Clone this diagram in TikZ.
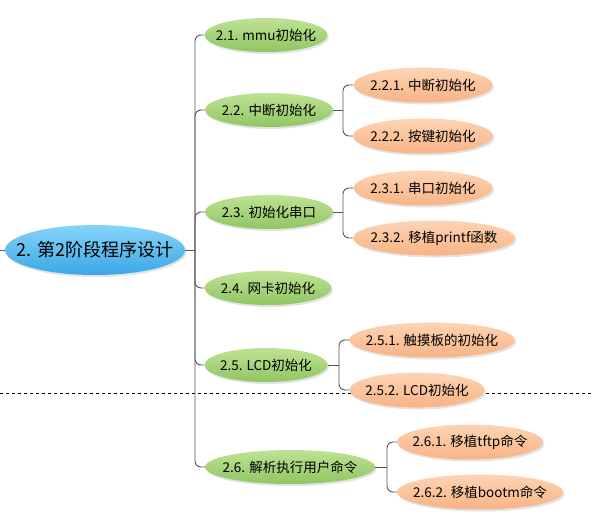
\documentclass[tikz,border=0pt]{standalone}
\usepackage{fontspec}
\setmainfont{Noto Sans CJK SC}
\usepackage{tikz}
\usepackage{xcolor}
\usetikzlibrary{shapes.geometric,shadows}
\definecolor{rootblue}{HTML}{1898E2}
\definecolor{rootlight}{HTML}{86D3F8}
\definecolor{subgreen}{HTML}{74B83A}
\definecolor{sublight}{HTML}{BFE295}
\definecolor{leaforange}{HTML}{F7A066}
\definecolor{leaflight}{HTML}{FDD4B4}
\definecolor{branchgray}{HTML}{555555}
\tikzset{
    mind-node/.style = {ellipse, draw=none, inner xsep=-20pt, inner ysep=0pt, text=black,
        drop shadow={opacity=0.22, shadow xshift=1.5pt, shadow yshift=-2pt}},
    root-node/.style = {mind-node, minimum height=50pt, font=\fontsize{18}{21}\selectfont,
        top color=rootlight, middle color=rootblue, bottom color=rootblue!85!white},
    sub-node/.style = {mind-node, minimum height=34pt, font=\fontsize{13.5}{16}\selectfont,
        top color=sublight, middle color=subgreen, bottom color=subgreen!80!white},
    leaf-node/.style = {mind-node, minimum height=35pt, font=\fontsize{13.5}{16}\selectfont,
        top color=leaflight, middle color=leaforange, bottom color=leaforange!80!white},
    branch-line/.style = {draw=branchgray, line width=0.9pt, rounded corners=6pt},
}

\begin{document}
\begin{tikzpicture}[x=1pt, y=-1pt]
\useasboundingbox (0,0) rectangle (594,522);
% separator
\draw[dashed, line width=0.7pt] (0,393) -- (594,393);

% root and first level
\node[root-node, minimum width=180pt] (root) at (95,250) {2. 第2阶段程序设计};
\coordinate (left-end) at (0,250);
\coordinate (trunk) at (195,250);

\node[sub-node, minimum width=123pt] (s1) at (266,35)  {2.1. mmu初始化};
\node[sub-node, minimum width=128pt] (s2) at (269,110) {2.2. 中断初始化};
\node[sub-node, minimum width=128pt] (s3) at (269,212) {2.3. 初始化串口};
\node[sub-node, minimum width=127pt] (s4) at (268,288) {2.4. 网卡初始化};
\node[sub-node, minimum width=123pt] (s5) at (266,365) {2.5. LCD初始化};
\node[sub-node, minimum width=170pt] (s6) at (290,467) {2.6. 解析执行用户命令};

% second level
\node[leaf-node, minimum width=139pt] (l21) at (423,85)  {2.2.1. 中断初始化};
\node[leaf-node, minimum width=140pt] (l22) at (423,136) {2.2.2. 按键初始化};
\node[leaf-node, minimum width=139pt] (l31) at (423,188) {2.3.1. 串口初始化};
\node[leaf-node, minimum width=162pt] (l32) at (434,238) {2.3.2. 移植printf函数};
\node[leaf-node, minimum width=165pt] (l51) at (432,340) {2.5.1. 触摸板的初始化};
\node[leaf-node, minimum width=135pt] (l52) at (417,390) {2.5.2. LCD初始化};
\node[leaf-node, minimum width=146pt] (l61) at (470,442) {2.6.1. 移植tftp命令};
\node[leaf-node, minimum width=166pt] (l62) at (480,492) {2.6.2. 移植bootm命令};

% connectors
\draw[branch-line] (left-end) -- (root.west);
\draw[branch-line] (root.east) -- (trunk);
\foreach \s in {s1,s2,s3,s4,s5,s6}
    \draw[branch-line] (trunk) |- (\s.west);

\coordinate (fork2) at (343,110);
\coordinate (fork3) at (343,212);
\coordinate (fork5) at (339,365);
\coordinate (fork6) at (387,467);
\draw[branch-line] (s2.east) -- (fork2);
\draw[branch-line] (s3.east) -- (fork3);
\draw[branch-line] (s5.east) -- (fork5);
\draw[branch-line] (s6.east) -- (fork6);
\foreach \f/\l in {fork2/l21, fork2/l22, fork3/l31, fork3/l32, fork5/l51, fork5/l52, fork6/l61, fork6/l62}
    \draw[branch-line] (\f) |- (\l.west);
\end{tikzpicture}
\end{document}
